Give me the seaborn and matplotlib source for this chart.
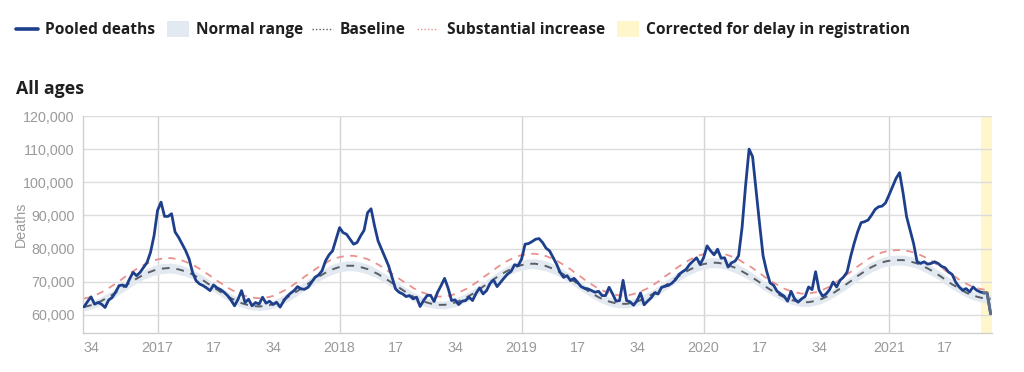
import numpy as np
import pandas as pd
import matplotlib.pyplot as plt
import seaborn as sns
from matplotlib.lines import Line2D
from matplotlib.patches import Rectangle

# Weekly values in thousands, ISO week 32 of 2016 up to week 30 of 2021
deaths = [
    62.4, 64.0, 65.4, 63.2, 63.7, 63.2, 62.2, 64.4, 65.2, 66.8, 68.8, 69.0, 68.5, 70.8, 72.8, 71.8, 72.8, 74.3, 75.8, 78.9,
    83.9, 91.5, 94.0, 89.7, 89.7, 90.5, 85.0, 83.4, 81.4, 79.4, 76.9, 72.8, 70.3, 69.3, 68.8, 68.1, 67.3, 69.0, 68.1, 67.6,
    66.8, 65.8, 64.4, 62.7, 64.7, 67.3, 63.7, 64.7, 62.7, 63.7, 63.2,
    65.3, 63.5, 64.1, 63.1, 63.8, 62.3, 64.1, 65.5, 66.5, 67.3, 68.5, 67.8, 67.7, 68.3, 69.8, 71.3, 72.0, 73.3, 76.3, 78.1,
    79.3, 82.8, 86.3, 84.8, 84.3, 82.8, 81.3, 81.8, 83.8, 85.5, 90.8, 92.0, 86.8, 82.3, 79.8, 77.3, 74.8, 71.3, 67.8, 66.8,
    66.3, 65.5, 65.8, 64.8, 65.3, 62.5, 64.3, 65.8, 65.9, 64.0,
    66.8, 68.8, 71.0, 68.1, 64.3, 64.5, 63.1, 64.1, 64.3, 65.3, 64.3, 66.5, 68.1, 66.3, 67.3, 69.5, 70.5, 68.5, 69.8, 71.1,
    72.3, 73.1, 75.1, 74.8, 76.8, 81.3, 81.5, 82.1, 82.8, 83.0, 81.8, 80.1, 79.3, 77.3, 75.3, 72.8, 71.3, 71.8, 70.3, 71.0,
    69.8, 68.5, 68.0, 67.8, 67.3, 66.8, 67.1, 65.8, 65.8, 68.3,
    66.3, 64.1, 64.3, 70.4, 64.3, 63.9, 62.9, 64.3, 66.6, 63.0, 64.1, 65.1, 66.6, 66.3, 68.3, 68.6, 68.9, 69.6, 70.6, 72.2,
    73.0, 73.7, 75.2, 76.2, 77.2, 75.2, 77.2, 80.8, 79.3, 78.1, 79.8, 77.1, 77.2, 74.4, 75.7, 76.2, 77.8, 86.4, 99.0, 110.0,
    107.7, 97.5, 87.4, 77.8, 73.2, 69.6, 68.9, 67.1, 66.3, 65.6, 64.1, 67.1,
    64.8, 63.8, 64.8, 65.5, 68.4, 67.6, 73.0, 67.4, 65.6, 66.3, 67.6, 69.9, 68.4, 70.4, 71.4, 72.9, 77.5, 81.5, 85.0, 87.8,
    88.1, 88.6, 90.1, 91.8, 92.6, 92.8, 93.8, 96.2, 98.7, 101.2, 102.9, 96.7, 89.6, 85.6, 81.5, 76.0, 75.5, 76.0, 75.3, 75.5,
    76.0, 75.5, 74.6, 74.2, 72.9, 72.2, 69.9, 68.4, 67.4, 67.9, 66.9, 68.4, 67.4, 66.9, 66.6, 66.6, 60.3,
]

baseline = [
    62.4, 62.6, 62.9, 63.3, 63.7, 64.2, 64.8, 65.4, 66.0, 66.7, 67.4, 68.2, 68.9, 69.6, 70.3, 70.9, 71.5, 72.1, 72.6, 73.0, 73.4, 73.7, 73.9, 74.0, 74.1,
    74.1, 73.9, 73.7, 73.4, 73.1, 72.6, 72.2, 71.6, 71.0, 70.4, 69.7, 69.0, 68.3, 67.6, 66.9, 66.3, 65.6, 65.0, 64.5, 64.0, 63.5, 63.2, 62.9, 62.7, 62.6, 62.5,
    62.6, 62.7, 62.9, 63.2, 63.6, 64.1, 64.6, 65.2, 65.8, 66.5, 67.2, 67.9, 68.7, 69.4, 70.1, 70.8, 71.5, 72.1, 72.7, 73.3, 73.7, 74.1, 74.4, 74.6, 74.8, 74.8,
    74.8, 74.6, 74.4, 74.1, 73.8, 73.3, 72.8, 72.3, 71.6, 71.0, 70.3, 69.6, 68.9, 68.2, 67.5, 66.8, 66.2, 65.5, 65.0, 64.5, 64.0, 63.7, 63.4, 63.2, 63.0, 63.0,
    63.0, 63.2, 63.4, 63.7, 64.1, 64.6, 65.1, 65.7, 66.3, 67.0, 67.7, 68.5, 69.2, 69.9, 70.7, 71.4, 72.1, 72.7, 73.3, 73.8, 74.3, 74.7, 75.0, 75.2, 75.4, 75.4,
    75.4, 75.2, 75.0, 74.7, 74.3, 73.9, 73.4, 72.8, 72.2, 71.5, 70.8, 70.1, 69.4, 68.6, 67.9, 67.2, 66.5, 65.9, 65.3, 64.8, 64.4, 64.0, 63.7, 63.5, 63.3, 63.3,
    63.3, 63.5, 63.7, 64.0, 64.4, 64.9, 65.4, 66.0, 66.6, 67.3, 68.0, 68.8, 69.5, 70.2, 71.0, 71.7, 72.4, 73.0, 73.6, 74.1, 74.6, 75.0, 75.3, 75.5, 75.7, 75.7,
    75.7, 75.5, 75.3, 75.0, 74.6, 74.2, 73.7, 73.1, 72.5, 71.9, 71.2, 70.5, 69.8, 69.0, 68.3, 67.6, 67.0, 66.4, 65.8, 65.3, 64.9, 64.5, 64.2, 64.0, 63.8, 63.8,
    63.8, 64.0, 64.2, 64.5, 64.9, 65.4, 65.9, 66.5, 67.2, 67.9, 68.6, 69.4, 70.1, 70.9, 71.7, 72.4, 73.1, 73.8, 74.4, 74.9, 75.4, 75.8, 76.1, 76.3, 76.4, 76.5, 76.5,
    76.5, 76.3, 76.1, 75.8, 75.5, 75.0, 74.5, 74.0, 73.4, 72.7, 72.1, 71.4, 70.6, 69.9, 69.2, 68.6, 67.9, 67.3, 66.7, 66.2, 65.8, 65.5, 65.2, 65.0, 64.9, 64.8,
]

substantial = [
    64.9, 65.1, 65.4, 65.8, 66.3, 66.8, 67.4, 68.0, 68.7, 69.4, 70.1, 70.9, 71.7, 72.4, 73.1, 73.8, 74.4, 75.0, 75.5, 75.9, 76.4, 76.7, 76.9, 77.0, 77.1,
    77.1, 76.9, 76.7, 76.4, 76.0, 75.5, 75.1, 74.5, 73.9, 73.2, 72.5, 71.8, 71.0, 70.3, 69.6, 69.0, 68.2, 67.6, 67.1, 66.6, 66.0, 65.7, 65.4, 65.2, 65.1, 65.0,
    65.1, 65.2, 65.4, 65.7, 66.2, 66.7, 67.2, 67.8, 68.4, 69.2, 69.9, 70.6, 71.5, 72.2, 72.9, 73.7, 74.4, 75.0, 75.6, 76.3, 76.7, 77.1, 77.4, 77.6, 77.8, 77.8,
    77.8, 77.6, 77.4, 77.1, 76.8, 76.3, 75.7, 75.2, 74.5, 73.9, 73.1, 72.4, 71.7, 70.9, 70.2, 69.5, 68.9, 68.1, 67.6, 67.1, 66.6, 66.3, 65.9, 65.7, 65.5, 65.5,
    65.5, 65.7, 65.9, 66.3, 66.7, 67.2, 67.7, 68.3, 69.0, 69.7, 70.4, 71.3, 72.0, 72.7, 73.5, 74.3, 75.0, 75.6, 76.3, 76.8, 77.3, 77.7, 78.0, 78.2, 78.4, 78.4,
    78.4, 78.2, 78.0, 77.7, 77.3, 76.9, 76.4, 75.7, 75.1, 74.4, 73.7, 72.9, 72.2, 71.4, 70.6, 69.9, 69.2, 68.5, 67.9, 67.4, 67.0, 66.6, 66.3, 66.0, 65.8, 65.8,
    65.8, 66.0, 66.3, 66.6, 67.0, 67.5, 68.0, 68.7, 69.3, 70.0, 70.7, 71.6, 72.3, 73.0, 73.9, 74.6, 75.3, 75.9, 76.6, 77.1, 77.6, 78.0, 78.3, 78.5, 78.7, 78.7,
    78.7, 78.5, 78.3, 78.0, 77.6, 77.2, 76.7, 76.0, 75.4, 74.8, 74.1, 73.3, 72.6, 71.8, 71.0, 70.3, 69.7, 69.1, 68.4, 67.9, 67.5, 67.1, 66.8, 66.6, 66.4, 66.4,
    66.4, 66.6, 66.8, 67.1, 67.5, 68.0, 68.5, 69.2, 69.9, 70.6, 71.4, 72.2, 72.9, 73.8, 74.6, 75.3, 76.0, 76.8, 77.4, 77.9, 78.4, 78.8, 79.1, 79.3, 79.4, 79.5, 79.5,
    79.5, 79.3, 79.1, 78.8, 78.5, 78.0, 77.5, 77.0, 76.4, 75.6, 75.0, 74.3, 73.4, 72.7, 72.0, 71.4, 70.6, 70.0, 69.4, 68.9, 68.4, 68.1, 67.8, 67.6, 67.5, 67.4,
]

normal_lo = [
    61.2, 61.4, 61.7, 62.1, 62.4, 62.9, 63.5, 64.1, 64.7, 65.4, 66.1, 66.9, 67.5, 68.2, 68.9, 69.5, 70.1, 70.7, 71.2, 71.6, 71.9, 72.2, 72.4, 72.5, 72.6,
    72.6, 72.4, 72.2, 71.9, 71.7, 71.2, 70.8, 70.2, 69.6, 69.0, 68.3, 67.6, 67.0, 66.3, 65.6, 65.0, 64.3, 63.7, 63.2, 62.7, 62.3, 62.0, 61.7, 61.5, 61.4, 61.3,
    61.4, 61.5, 61.7, 62.0, 62.3, 62.8, 63.3, 63.9, 64.5, 65.2, 65.9, 66.6, 67.3, 68.0, 68.7, 69.4, 70.1, 70.7, 71.3, 71.8, 72.2, 72.6, 72.9, 73.1, 73.3, 73.3,
    73.3, 73.1, 72.9, 72.6, 72.3, 71.8, 71.4, 70.9, 70.2, 69.6, 68.9, 68.2, 67.5, 66.9, 66.2, 65.5, 64.9, 64.2, 63.7, 63.2, 62.7, 62.4, 62.2, 62.0, 61.8, 61.8,
    61.8, 62.0, 62.2, 62.4, 62.8, 63.3, 63.8, 64.4, 65.0, 65.7, 66.4, 67.1, 67.8, 68.5, 69.3, 70.0, 70.7, 71.3, 71.8, 72.3, 72.8, 73.2, 73.5, 73.7, 73.9, 73.9,
    73.9, 73.7, 73.5, 73.2, 72.8, 72.4, 71.9, 71.4, 70.8, 70.1, 69.4, 68.7, 68.0, 67.2, 66.6, 65.9, 65.2, 64.6, 64.0, 63.5, 63.1, 62.7, 62.4, 62.3, 62.1, 62.1,
    62.1, 62.3, 62.4, 62.7, 63.1, 63.6, 64.1, 64.7, 65.3, 66.0, 66.7, 67.4, 68.1, 68.8, 69.6, 70.3, 71.0, 71.6, 72.1, 72.6, 73.1, 73.5, 73.8, 74.0, 74.2, 74.2,
    74.2, 74.0, 73.8, 73.5, 73.1, 72.7, 72.2, 71.7, 71.1, 70.5, 69.8, 69.1, 68.4, 67.6, 67.0, 66.3, 65.7, 65.1, 64.5, 64.0, 63.6, 63.2, 62.9, 62.7, 62.5, 62.5,
    62.5, 62.7, 62.9, 63.2, 63.6, 64.1, 64.6, 65.2, 65.9, 66.6, 67.2, 68.0, 68.7, 69.5, 70.3, 71.0, 71.7, 72.3, 72.9, 73.4, 73.9, 74.3, 74.6, 74.8, 74.9, 75.0, 75.0,
    75.0, 74.8, 74.6, 74.3, 74.0, 73.5, 73.0, 72.5, 71.9, 71.3, 70.7, 70.0, 69.2, 68.5, 67.8, 67.2, 66.6, 66.0, 65.4, 64.9, 64.5, 64.2, 63.9, 63.7, 63.6, 63.5,
]

normal_hi = [
    63.6, 63.8, 64.1, 64.5, 65.0, 65.5, 66.1, 66.7, 67.3, 68.0, 68.7, 69.5, 70.3, 71.0, 71.7, 72.3, 72.9, 73.5, 74.0, 74.4, 74.9, 75.2, 75.4, 75.5, 75.6,
    75.6, 75.4, 75.2, 74.9, 74.5, 74.0, 73.6, 73.0, 72.4, 71.8, 71.1, 70.4, 69.6, 68.9, 68.2, 67.6, 66.9, 66.3, 65.8, 65.3, 64.7, 64.4, 64.1, 63.9, 63.8, 63.7,
    63.8, 63.9, 64.1, 64.4, 64.9, 65.4, 65.9, 66.5, 67.1, 67.8, 68.5, 69.2, 70.1, 70.8, 71.5, 72.2, 72.9, 73.5, 74.1, 74.8, 75.2, 75.6, 75.9, 76.1, 76.3, 76.3,
    76.3, 76.1, 75.9, 75.6, 75.3, 74.8, 74.2, 73.7, 73.0, 72.4, 71.7, 71.0, 70.3, 69.5, 68.8, 68.1, 67.5, 66.8, 66.3, 65.8, 65.3, 65.0, 64.6, 64.4, 64.2, 64.2,
    64.2, 64.4, 64.6, 65.0, 65.4, 65.9, 66.4, 67.0, 67.6, 68.3, 69.0, 69.9, 70.6, 71.3, 72.1, 72.8, 73.5, 74.1, 74.8, 75.3, 75.8, 76.2, 76.5, 76.7, 76.9, 76.9,
    76.9, 76.7, 76.5, 76.2, 75.8, 75.4, 74.9, 74.2, 73.6, 72.9, 72.2, 71.5, 70.8, 70.0, 69.2, 68.5, 67.8, 67.2, 66.6, 66.1, 65.7, 65.3, 65.0, 64.7, 64.5, 64.5,
    64.5, 64.7, 65.0, 65.3, 65.7, 66.2, 66.7, 67.3, 67.9, 68.6, 69.3, 70.2, 70.9, 71.6, 72.4, 73.1, 73.8, 74.4, 75.1, 75.6, 76.1, 76.5, 76.8, 77.0, 77.2, 77.2,
    77.2, 77.0, 76.8, 76.5, 76.1, 75.7, 75.2, 74.5, 73.9, 73.3, 72.6, 71.9, 71.2, 70.4, 69.6, 68.9, 68.3, 67.7, 67.1, 66.6, 66.2, 65.8, 65.5, 65.3, 65.1, 65.1,
    65.1, 65.3, 65.5, 65.8, 66.2, 66.7, 67.2, 67.8, 68.5, 69.2, 70.0, 70.8, 71.5, 72.3, 73.1, 73.8, 74.5, 75.3, 75.9, 76.4, 76.9, 77.3, 77.6, 77.8, 77.9, 78.0, 78.0,
    78.0, 77.8, 77.6, 77.3, 77.0, 76.5, 76.0, 75.5, 74.9, 74.1, 73.5, 72.8, 72.0, 71.3, 70.6, 70.0, 69.2, 68.6, 68.0, 67.5, 67.1, 66.8, 66.5, 66.3, 66.2, 66.1,
]

# ISO year / week of each point
years = [2016] * 21 + [2017] * 52 + [2018] * 52 + [2019] * 52 + [2020] * 53 + [2021] * 30
weeks = list(range(32, 53)) + list(range(1, 53)) * 3 + list(range(1, 54)) + list(range(1, 31))
tick_weeks = [1, 17, 34]
delay_weeks = 3  # last weeks corrected for delay in registration

df = pd.DataFrame({
    "t": np.arange(len(deaths)),
    "year": years,
    "week": weeks,
    "deaths": np.array(deaths) * 1000,
    "baseline": np.array(baseline) * 1000,
    "substantial": np.array(substantial) * 1000,
    "lo": np.array(normal_lo) * 1000,
    "hi": np.array(normal_hi) * 1000,
})

#%%
sns.set_theme(style="white")
plt.rcParams["font.family"] = ["Liberation Sans", "DejaVu Sans"]

W, H = 1024, 372
fig = plt.figure(figsize=(W / 100, H / 100), dpi=100)
ax = fig.add_axes([83 / W, 1 - 333 / H, (992 - 83) / W, (333 - 116) / H])

blue = "#1d3f8c"
band = "#e3e9f0"
base_col = "#5a5e66"
red = "#e8918e"
yellow = "#fff6cc"
grey_txt = "#9a9a9a"

n = len(df)
ax.axvspan(n - delay_weeks - 0.7, n - 0.6, color=yellow, lw=0, zorder=0)
ax.fill_between(df["t"], df["lo"], df["hi"], color=band, lw=0, zorder=1)
sns.lineplot(data=df, x="t", y="substantial", ax=ax, color=red, lw=1.3,
             linestyle=(0, (4, 3.5)), zorder=2)
sns.lineplot(data=df, x="t", y="baseline", ax=ax, color=base_col, lw=1.4,
             linestyle=(0, (4, 3.5)), zorder=3)
sns.lineplot(data=df, x="t", y="deaths", ax=ax, color=blue, lw=2.0, zorder=4)
tail = df.iloc[n - delay_weeks:]
sns.lineplot(data=tail, x="t", y="deaths", ax=ax, color="#5d6e86", lw=2.0, zorder=5)

ax.set_xlim(-0.3, n - 0.6)
ax.set_ylim(54500, 120000)
ax.set_yticks(np.arange(60000, 120001, 10000))
ax.set_yticklabels([f"{v:,}" for v in range(60000, 120001, 10000)])

tk = df[df["week"].isin(tick_weeks)]
ax.set_xticks(tk["t"])
ax.set_xticklabels([str(y) if w == 1 else str(w) for y, w in zip(tk["year"], tk["week"])])

ax.grid(axis="y", color="#dcdcdc", lw=1)
for t in df.loc[df["week"] == 1, "t"]:
    ax.axvline(t, color="#d4d4d4", lw=1, zorder=0.5)

for s in ["top", "right"]:
    ax.spines[s].set_visible(False)
for s in ["left", "bottom"]:
    ax.spines[s].set_color("#cfcfcf")
    ax.spines[s].set_linewidth(1)
ax.tick_params(axis="both", colors=grey_txt, labelsize=10.3, length=4, width=0.8, pad=2)
ax.tick_params(axis="both", color="#c8c8c8")
ax.set_xlabel("")
ax.set_ylabel("Deaths", color=grey_txt, fontsize=10.3)
ax.yaxis.set_label_coords((28 - 83) / 909, 0.5)

#%%
# Legend row and panel title drawn in figure pixels
def fx(x):
    return x / W

def fy(y):
    return 1 - y / H

bold = dict(family=["Open Sans", "DejaVu Sans"], weight="bold", fontsize=11.2, color="#1f1f1f", va="center")
ly = 29
fig.add_artist(Line2D([fx(16), fx(38)], [fy(ly), fy(ly)], color=blue, lw=2.6))
fig.text(fx(45), fy(ly + 1), "Pooled deaths", **bold)
fig.add_artist(Rectangle((fx(167), fy(37)), fx(22), 16 / H, color=band, lw=0))
fig.text(fx(196), fy(ly + 1), "Normal range", **bold)
fig.add_artist(Line2D([fx(312), fx(333)], [fy(ly), fy(ly)], color=base_col, lw=1, linestyle=(0, (1, 1.5))))
fig.text(fx(340), fy(ly + 1), "Baseline", **bold)
fig.add_artist(Line2D([fx(417), fx(438)], [fy(ly), fy(ly)], color=red, lw=1, linestyle=(0, (1, 1.5))))
fig.text(fx(447), fy(ly + 1), "Substantial increase", **bold)
fig.add_artist(Rectangle((fx(617), fy(37)), fx(22), 16 / H, color=yellow, lw=0))
fig.text(fx(646), fy(ly + 1), "Corrected for delay in registration", **bold)

fig.text(fx(16), fy(89), "All ages", family=["Open Sans", "DejaVu Sans"], weight="bold",
         fontsize=12.8, color="#1f1f1f", va="center")

plt.savefig("out.png", dpi=100)
